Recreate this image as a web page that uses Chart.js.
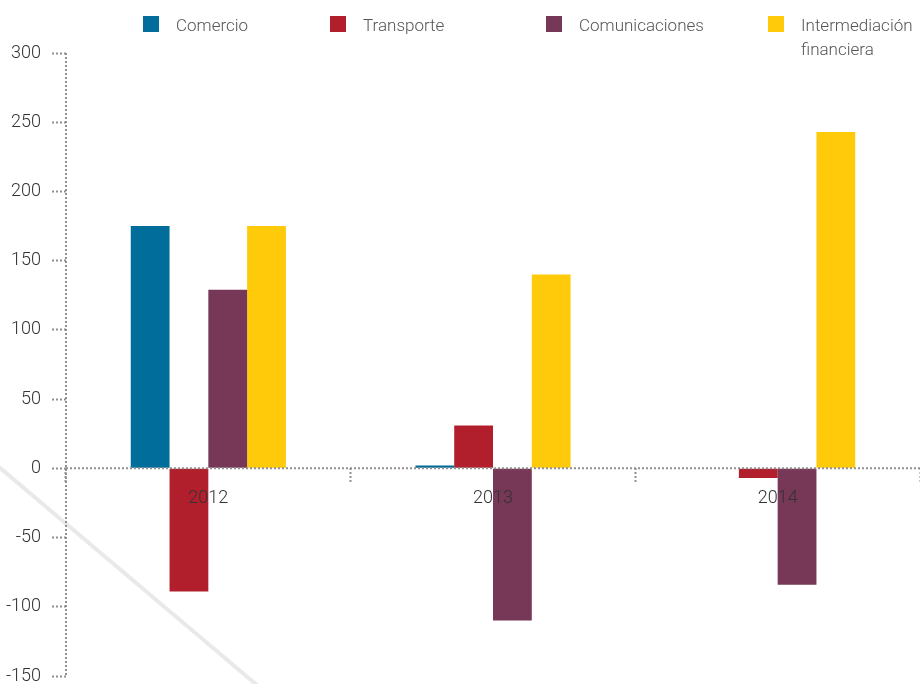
<!DOCTYPE html>
<html>
<head>
<meta charset="utf-8">
<script src="https://cdn.jsdelivr.net/npm/chart.js@4.4.1/dist/chart.umd.min.js"></script>
<style>
  html, body { margin: 0; padding: 0; background: #fff; }
  #wrap { position: relative; width: 920px; height: 684px; overflow: hidden; }
  #grafico { position: absolute; left: 0; top: 0; }
  #leyenda { position: absolute; top: 0; left: 0; width: 920px; height: 60px; }
  .item { position: absolute; top: 13px; font-family: Roboto, "Noto Sans", sans-serif; font-size: 17px; font-weight: 300; color: #555; line-height: 24px; }
  .item span.cuadro { position: absolute; left: 0; top: 3px; width: 16px; height: 16px; }
  .item span.txt { display: block; margin-left: 33px; }
  .item:nth-child(1) { left: 143px; }
  .item:nth-child(2) { left: 330px; }
  .item:nth-child(3) { left: 546px; }
  .item:nth-child(4) { left: 768px; }
</style>
</head>
<body>
<div id="wrap">
  <canvas id="grafico" width="920" height="684"></canvas>
  <div id="leyenda"></div>
</div>
<script>
// --- DATOS ---
const anios = ['2012', '2013', '2014'];
const series = ['Comercio', 'Transporte', 'Comunicaciones', ['Intermediación', 'financiera']];
const comercio = [175, 2, 0];
const transporte = [-89, 31, -7];
const comunicaciones = [129, -110, -84];
const intermediacion = [175, 140, 243];
const ticksY = [-150, -100, -50, 0, 50, 100, 150, 200, 250, 300];

const colores = ['#006d9b', '#b21f2c', '#773756', '#feca0a'];
const valores = [comercio, transporte, comunicaciones, intermediacion];

const fuenteEjes = { family: "Roboto, sans-serif", size: 18, weight: 300 };
const grisPuntos = '#909090';

// linea diagonal de fondo (decorativa)
const fondoDiagonal = {
  id: 'fondoDiagonal',
  beforeDraw(chart) {
    const c = chart.ctx;
    c.save();
    c.strokeStyle = '#e9e9e9';
    c.lineWidth = 4;
    c.beginPath();
    c.moveTo(-20, 451);
    c.lineTo(258, 686);
    c.stroke();
    c.restore();
  }
};

// ejes punteados (el borde de Chart.js no admite guiones)
const ejesPunteados = {
  id: 'ejesPunteados',
  afterDatasetsDraw(chart) {
    const c = chart.ctx;
    const a = chart.chartArea;
    const y0 = chart.scales.y.getPixelForValue(0);
    c.save();
    c.strokeStyle = grisPuntos;
    c.lineWidth = 2;
    c.setLineDash([2, 2]);
    c.beginPath();
    c.moveTo(a.left, a.top);
    c.lineTo(a.left, a.bottom);
    c.moveTo(a.left, y0);
    c.lineTo(a.right, y0);
    c.stroke();
    c.restore();
  }
};

const chart = new Chart(document.getElementById('grafico'), {
  type: 'bar',
  data: {
    labels: anios,
    datasets: series.map((s, i) => ({
      label: Array.isArray(s) ? s.join(' ') : s,
      data: valores[i],
      backgroundColor: colores[i],
      borderWidth: 0,
      barPercentage: 1,
      categoryPercentage: 0.545
    }))
  },
  options: {
    responsive: false,
    animation: false,
    layout: { padding: { top: 53, bottom: 8, right: 0, left: 0 } },
    plugins: { legend: { display: false }, tooltip: { enabled: false } },
    scales: {
      x: {
        position: { y: 0 },
        afterFit: (s) => { s.height = 0; s.paddingTop = 0; s.paddingBottom = 0; },
        grid: {
          offset: true,
          drawOnChartArea: false,
          tickLength: 15,
          tickColor: grisPuntos,
          tickWidth: 2,
          tickBorderDash: [2, 2]
        },
        border: { display: false },
        ticks: { color: '#333', font: fuenteEjes, padding: 4, z: 1 }
      },
      y: {
        min: -150,
        max: 300,
        afterBuildTicks: (s) => { s.ticks = ticksY.map(v => ({ value: v })); },
        afterFit: (s) => { s.width = 66; s.paddingTop = 0; s.paddingBottom = 0; },
        grid: {
          drawOnChartArea: false,
          tickLength: 14,
          tickColor: grisPuntos,
          tickWidth: 2,
          tickBorderDash: [2, 2]
        },
        border: { display: false },
        ticks: { color: '#333', font: fuenteEjes, padding: 11 }
      }
    }
  },
  plugins: [fondoDiagonal, ejesPunteados]
});

// leyenda HTML
const leyenda = document.getElementById('leyenda');
series.forEach((s, i) => {
  const d = document.createElement('div');
  d.className = 'item';
  const txt = Array.isArray(s) ? s.join('<br>') : s;
  d.innerHTML = `<span class="cuadro" style="background:${colores[i]}"></span><span class="txt">${txt}</span>`;
  leyenda.appendChild(d);
});
</script>
</body>
</html>
